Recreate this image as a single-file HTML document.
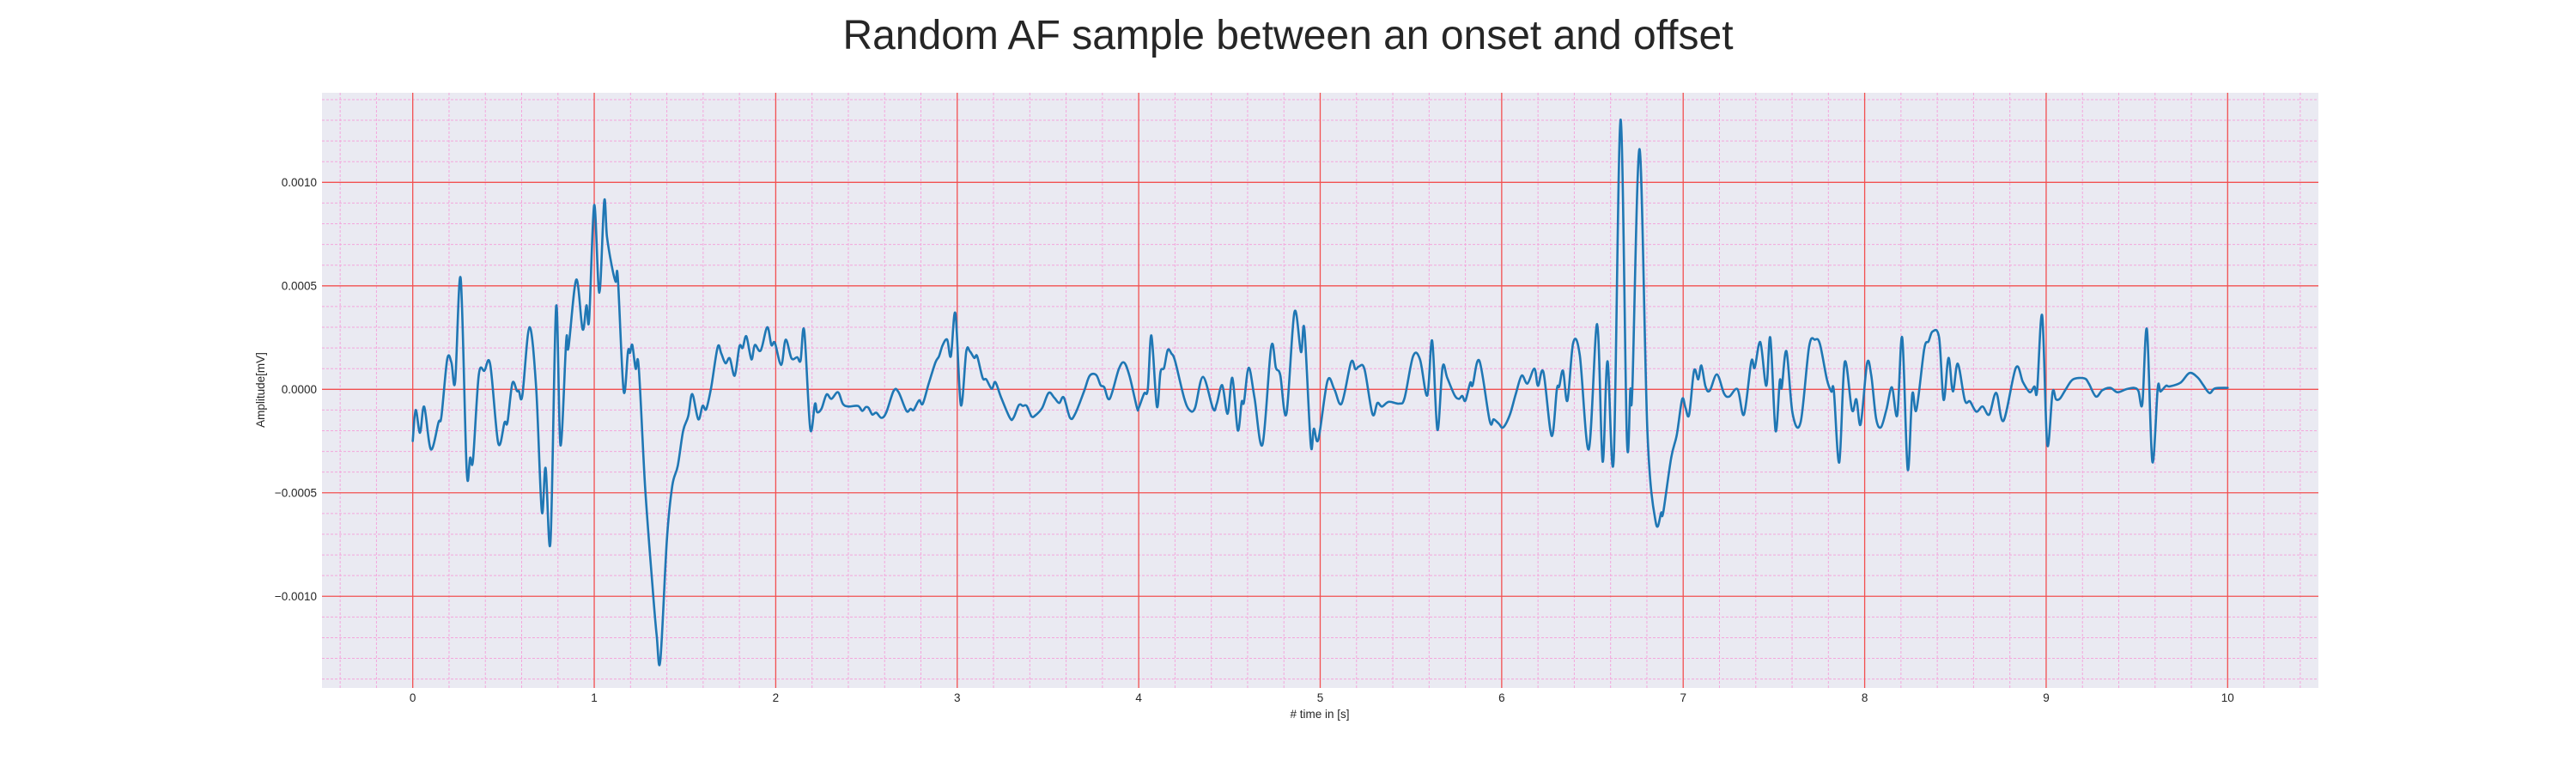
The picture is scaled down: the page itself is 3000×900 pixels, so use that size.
<!DOCTYPE html>
<html><head><meta charset="utf-8"><style>
html,body{margin:0;padding:0;background:#fff;}
svg{display:block;font-family:"Liberation Sans",Arial,sans-serif;}
</style></head><body>
<svg id="chart" width="3000" height="900" viewBox="0 0 3000 900" xmlns="http://www.w3.org/2000/svg">
<rect x="0" y="0" width="3000" height="900" fill="#ffffff"/>
<text x="1500" y="57" font-size="48" text-anchor="middle" fill="#262626">Random AF sample between an onset and offset</text>
<rect x="375" y="108" width="2325" height="693" fill="#eaeaf2"/>
<g id="minor"></g><g id="major"></g><g id="series"></g><g id="labels"></g>
<text x="1537" y="836" font-size="13.5" text-anchor="middle" fill="#262626"># time in [s]</text>
<text x="308" y="454" font-size="13.5" text-anchor="middle" fill="#262626" transform="rotate(-90 308 454)">Amplitude[mV]</text>
</svg>
<script>
const xTicks = [0,1,2,3,4,5,6,7,8,9,10];
const yTicks = [-0.0010,-0.0005,0.0000,0.0005,0.0010];
const yTickLabels = ["\u22120.0010","\u22120.0005","0.0000","0.0005","0.0010"];
const times = [0,0.016,0.04,0.063,0.1,0.142,0.158,0.19,0.213,0.234,0.264,0.297,0.316,0.332,0.364,0.395,0.427,0.471,0.506,0.522,0.549,0.574,0.585,0.604,0.643,0.68,0.711,0.732,0.759,0.79,0.814,0.846,0.858,0.901,0.936,0.957,0.972,1.0,1.028,1.055,1.07,1.096,1.118,1.13,1.162,1.186,1.197,1.21,1.228,1.245,1.28,1.32,1.344,1.364,1.4,1.43,1.46,1.49,1.518,1.54,1.573,1.597,1.617,1.644,1.68,1.7,1.723,1.747,1.774,1.8,1.818,1.838,1.866,1.885,1.917,1.953,1.976,1.995,2.03,2.055,2.087,2.118,2.137,2.157,2.19,2.216,2.228,2.252,2.28,2.307,2.343,2.37,2.4,2.453,2.477,2.496,2.512,2.532,2.554,2.583,2.61,2.65,2.677,2.72,2.743,2.76,2.79,2.81,2.843,2.88,2.9,2.92,2.945,2.965,2.99,3.02,3.05,3.07,3.094,3.11,3.14,3.16,3.19,3.21,3.24,3.29,3.31,3.34,3.362,3.383,3.41,3.433,3.468,3.504,3.535,3.562,3.587,3.622,3.65,3.7,3.73,3.766,3.79,3.81,3.84,3.89,3.92,3.95,3.99,4.0,4.03,4.05,4.07,4.1,4.12,4.14,4.16,4.18,4.2,4.25,4.28,4.31,4.354,4.41,4.43,4.46,4.49,4.516,4.546,4.567,4.58,4.606,4.638,4.682,4.73,4.756,4.78,4.814,4.858,4.894,4.913,4.948,4.965,4.99,5.04,5.078,5.118,5.17,5.194,5.213,5.244,5.288,5.315,5.34,5.378,5.436,5.465,5.512,5.55,5.59,5.617,5.646,5.674,5.7,5.74,5.764,5.783,5.8,5.827,5.84,5.877,5.934,5.956,5.984,6.008,6.044,6.076,6.11,6.142,6.18,6.2,6.23,6.275,6.304,6.317,6.338,6.362,6.394,6.43,6.48,6.526,6.556,6.583,6.617,6.655,6.69,6.709,6.72,6.76,6.803,6.849,6.879,6.89,6.934,6.965,6.994,7.013,7.033,7.06,7.083,7.1,7.123,7.146,7.186,7.225,7.254,7.3,7.335,7.375,7.394,7.425,7.458,7.48,7.509,7.532,7.543,7.569,7.603,7.647,7.694,7.726,7.753,7.792,7.816,7.83,7.86,7.89,7.93,7.954,7.978,8.013,8.036,8.063,8.09,8.12,8.15,8.18,8.207,8.237,8.262,8.285,8.328,8.352,8.375,8.41,8.435,8.462,8.486,8.513,8.552,8.58,8.615,8.65,8.686,8.725,8.765,8.833,8.872,8.91,8.935,8.95,8.978,9.006,9.035,9.054,9.077,9.11,9.148,9.21,9.235,9.274,9.31,9.353,9.393,9.44,9.483,9.508,9.53,9.555,9.585,9.615,9.63,9.66,9.68,9.74,9.79,9.834,9.865,9.9,9.93,10.0];
const amplitudes = [-2.5,-1.0,-2.1,-0.84,-2.9,-1.6,-1.3,1.45,1.3,0.38,5.36,-3.9,-3.3,-3.4,0.7,0.9,1.2,-2.6,-1.6,-1.6,0.3,-0.08,-0.08,-0.3,3.0,0.08,-5.9,-3.8,-7.35,4.0,-2.7,2.4,2.0,5.3,2.9,4.06,3.37,8.9,4.67,9.1,7.4,6.0,5.2,5.4,-0.08,1.84,1.76,2.14,1.0,1.1,-4.67,-9.4,-11.9,-13.1,-7.3,-4.67,-3.7,-2.0,-1.3,-0.23,-1.45,-0.8,-0.96,0.08,2.04,1.73,1.26,1.5,0.66,2.07,2.0,2.56,1.45,2.14,1.87,3.0,2.14,2.25,1.18,2.4,1.5,1.55,1.4,2.84,-1.9,-0.7,-1.1,-0.94,-0.25,-0.46,-0.14,-0.7,-0.83,-0.8,-1.04,-0.86,-0.9,-1.22,-1.13,-1.38,-1.1,-0.07,-0.14,-1.04,-0.94,-1.0,-0.53,-0.7,0.28,1.3,1.6,2.14,2.4,1.6,3.67,-0.76,1.83,1.83,1.52,1.6,0.55,0.48,0.03,0.35,-0.35,-1.38,-1.38,-0.76,-0.8,-0.8,-1.31,-1.24,-0.9,-0.17,-0.41,-0.66,-0.39,-1.38,-1.18,-0.07,0.66,0.69,0.2,0.1,-0.46,0.97,1.29,0.62,-0.87,-0.9,-0.2,0,2.6,-0.83,0.83,1.04,1.9,1.73,1.38,-0.41,-1.0,-0.9,0.6,-0.94,-0.7,0.2,-1.18,0.55,-1.98,-0.62,-0.62,1.04,-0.41,-2.67,2.05,1.04,0.69,-1.18,3.73,1.8,2.9,-2.66,-1.9,-2.42,0.41,0,-0.69,1.31,0.97,1.1,0.97,-1.2,-0.66,-0.83,-0.6,-0.69,-0.41,1.6,1.45,-0.3,2.35,-1.96,1.07,0.55,-0.28,-0.46,-0.32,-0.55,0.32,0.2,1.38,-1.52,-1.45,-1.66,-1.84,-1.25,-0.28,0.66,0.28,1.0,0.17,0.83,-2.25,0,0.14,0.9,-0.55,2.24,1.66,-2.9,3.15,-3.49,1.36,-3.39,13.03,-2.42,0,0,11.6,-2.07,-6.43,-5.95,-5.95,-3.3,-2.2,-0.48,-0.9,-1.22,0.9,0.48,1.15,0.14,-0.07,0.72,-0.2,-0.35,0,-1.22,1.34,1.04,2.28,0.17,2.49,-2.0,0.41,0.07,1.84,-1.18,-1.59,2.07,2.4,2.2,0.48,-0.11,-0.07,-3.53,1.31,-1.0,-0.48,-1.69,1.24,0.69,-1.41,-1.83,-0.97,0.1,-1.24,2.5,-3.87,-0.24,-1.0,1.94,2.32,2.8,2.5,-0.51,1.52,-0.1,1.24,-0.53,-0.58,-1.08,-0.83,-1.22,-0.17,-1.52,1.04,0.35,-0.14,0.14,-0.07,3.57,-2.66,-0.14,-0.48,-0.44,0.03,0.48,0.53,0.28,-0.35,-0.04,0.07,-0.14,0,0.07,-0.07,-0.69,2.9,-3.49,0.07,-0.11,0.17,0.14,0.32,0.79,0.58,0.21,-0.18,0.04,0.07];
const NS='http://www.w3.org/2000/svg';
const X0=375,X1=2700,Y0=108,Y1=801;
const xMin=-0.5,xMax=10.5,yMin=-0.001443,yMax=0.001433;
function sx(t){return X0+(t-xMin)/(xMax-xMin)*(X1-X0);}
function sy(v){return Y1-(v-yMin)/(yMax-yMin)*(Y1-Y0);}
function mk(tag,attrs,parent){const e=document.createElementNS(NS,tag);for(const k in attrs)e.setAttribute(k,attrs[k]);parent.appendChild(e);return e;}
const minor=document.getElementById('minor'),major=document.getElementById('major'),series=document.getElementById('series'),labels=document.getElementById('labels');
for(let i=-2;i<=52;i++){const t=i*0.2; if(Math.abs(t-Math.round(t))<1e-6)continue; const x=sx(t); if(x<X0||x>X1)continue;
 const l=mk('line',{x1:x,x2:x,y1:Y0,y2:Y1,stroke:'#f4a6dc','stroke-width':1,'stroke-dasharray':'3,2'},minor);
 
 }
for(let i=-14;i<=14;i++){ if(i%5===0)continue; const y=sy(i*0.0001);
 const l=mk('line',{x1:X0,x2:X1,y1:y,y2:y,stroke:'#f4a6dc','stroke-width':1,'stroke-dasharray':'3,2'},minor);
 
 }
xTicks.forEach(t=>{const x=sx(t);
 const l=mk('line',{x1:x,x2:x,y1:Y0,y2:Y1,stroke:'#f25050','stroke-width':1.3},major);
 
 
 const tx=mk('text',{x:x,y:817,'font-size':13.5,'text-anchor':'middle',fill:'#262626'},labels);
 tx.textContent=String(t);
 
 });
yTicks.forEach((v,i)=>{const y=sy(v);
 const l=mk('line',{x1:X0,x2:X1,y1:y,y2:y,stroke:'#f25050','stroke-width':1.3},major);
 
 
 const tx=mk('text',{x:369,y:y+4.7,'font-size':13.5,'text-anchor':'end',fill:'#262626'},labels);
 tx.textContent=yTickLabels[i];
 
 });
const pts=times.map((t,i)=>[sx(t),sy(amplitudes[i]*1e-4)]);
let d='M'+pts[0][0].toFixed(1)+','+pts[0][1].toFixed(1);
for(let i=0;i<pts.length-1;i++){
 const p0=pts[Math.max(0,i-1)],p1=pts[i],p2=pts[i+1],p3=pts[Math.min(pts.length-1,i+2)];
 const c1x=p1[0]+(p2[0]-p0[0])/6,c1y=p1[1]+(p2[1]-p0[1])/6;
 const c2x=p2[0]-(p3[0]-p1[0])/6,c2y=p2[1]-(p3[1]-p1[1])/6;
 d+='C'+c1x.toFixed(1)+','+c1y.toFixed(1)+' '+c2x.toFixed(1)+','+c2y.toFixed(1)+' '+p2[0].toFixed(1)+','+p2[1].toFixed(1);
}
const p=mk('path',{d:d,fill:'none',stroke:'#1f77b4','stroke-width':2.6,'stroke-linejoin':'round','stroke-linecap':'round'},series);


</script>
</body></html>
